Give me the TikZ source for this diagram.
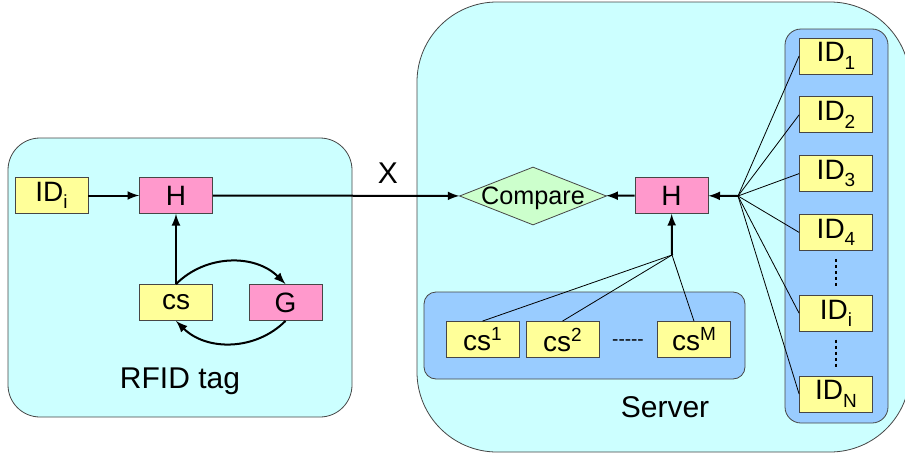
\documentclass[tikz,border=0pt]{standalone}
\usepackage{fontspec}
\setmainfont{Liberation Sans}
\usepackage{tikz}
\usetikzlibrary{shapes.geometric, arrows, positioning}
\definecolor{tagcyan}{RGB}{204,255,255}
\definecolor{poolblue}{RGB}{153,204,255}
\definecolor{keyyellow}{RGB}{255,255,153}
\definecolor{hashpink}{RGB}{255,153,204}
\definecolor{cmpgreen}{RGB}{204,255,204}
\definecolor{edgegray}{RGB}{70,70,70}
% sub- and superscripts of the box labels
\newcommand{\lowidx}[1]{\raisebox{-3.8pt}{\fontsize{9.5}{11}\selectfont #1}}
\newcommand{\highidx}[1]{\raisebox{5pt}{\fontsize{9.5}{11}\selectfont #1}}

\begin{document}
\begin{tikzpicture}[
    x=0.5pt, y=-0.5pt,
    node distance=11pt,
    device/.style={draw=edgegray, fill=tagcyan, inner sep=0pt},
    pool/.style={draw=edgegray, fill=poolblue, inner sep=0pt},
    keybox/.style={draw=edgegray, fill=keyyellow, minimum width=36.5pt, minimum height=18pt, inner sep=0pt, font=\fontsize{14}{16}\selectfont},
    hashbox/.style={keybox, fill=hashpink},
    decision/.style={diamond, draw=edgegray, fill=cmpgreen, minimum width=73.5pt, minimum height=29pt, inner sep=0pt},
    caption/.style={font=\fontsize{15}{18}\selectfont},
    arrow/.style={->, line width=1pt, >=latex},
    dotsline/.style={line width=1pt, dash pattern=on 1.8pt off 1.2pt, shorten >=4pt, shorten <=4pt}
]
\useasboundingbox (0,0) rectangle (905,455);

% Tag and server outlines
\node[device, rounded corners=16pt, minimum width=172pt, minimum height=139.5pt] (tag) at (180,277.5) {};
\node[device, rounded corners=40pt, minimum width=246.5pt, minimum height=225pt] (server) at (663.5,227) {};

% Pools of secrets and identifiers
\node[pool, rounded corners=6pt, minimum width=160.5pt, minimum height=43.5pt] (cspool) at (584.5,335.5) {};
\node[pool, rounded corners=8pt, minimum width=51.5pt, minimum height=197pt] (idpool) at (836.5,226) {};

% RFID tag
\node[keybox] (idtag) at (51.5,195.5) {ID\lowidx{i}};
\node[hashbox] (htag) at (176,195.5) {H};
\node[keybox] (cstag) at (176,302.5) {cs};
\node[hashbox] (gtag) at (285.5,302.5) {G};
\node[caption] (tagname) at (180,381) {RFID tag};

% Server side
\node[decision, label={[font=\fontsize{12.6}{15}\selectfont, yshift=-1.2pt]center:Compare}] (cmp) at (533,196) {};
\node[hashbox] (hsrv) at (671.5,195.5) {H};
\node[caption] (srvname) at (665,407) {Server};

\node[keybox] (cs1) at (482.5,339.5) {cs\highidx{1}};
\node[keybox] (cs2) at (562.5,339.5) {cs\highidx{2}};
\node[font=\fontsize{9.5}{11}\selectfont] (csdots) at (628,343) {-{}-{}-{}-{}-};
\node[keybox] (csm) at (694,339.5) {cs\highidx{M}};

\node[keybox] (id1) at (836,56) {ID\lowidx{1}};
\node[keybox, below=of id1] (id2) {ID\lowidx{2}};
\node[keybox, below=of id2] (id3) {ID\lowidx{3}};
\node[keybox, below=of id3] (id4) {ID\lowidx{4}};
\node[keybox, below=22pt of id4] (idi) {ID\lowidx{i}};
\node[keybox, below=22pt of idi] (idn) {ID\lowidx{N}};

\coordinate (fan) at (738,196);
\coordinate (csfan) at (672,255);

% Tag arrows
\draw[arrow] (idtag) -- (htag);
\draw[arrow] (cstag) -- (htag);
\draw[arrow] (cstag.north) to[bend left=45] (gtag.north);
\draw[arrow] (gtag.south) to[bend left=45] (cstag.south);

% Message to the server
\draw[arrow] (htag) -- (cmp);
\node[caption] (xmsg) at (388,173) {X};

% Server arrows
\draw[arrow] (hsrv) -- (cmp);
\draw[arrow] (fan) -- (hsrv);
\draw[arrow] (csfan) -- (hsrv);
\foreach \k in {id1,id2,id3,id4,idi,idn}
    \draw (fan) -- (\k.west);
\foreach \k in {cs1,cs2,csm}
    \draw (csfan) -- (\k.north);
\draw[dotsline] (id4) -- (idi);
\draw[dotsline] (idi) -- (idn);

\end{tikzpicture}
\end{document}
